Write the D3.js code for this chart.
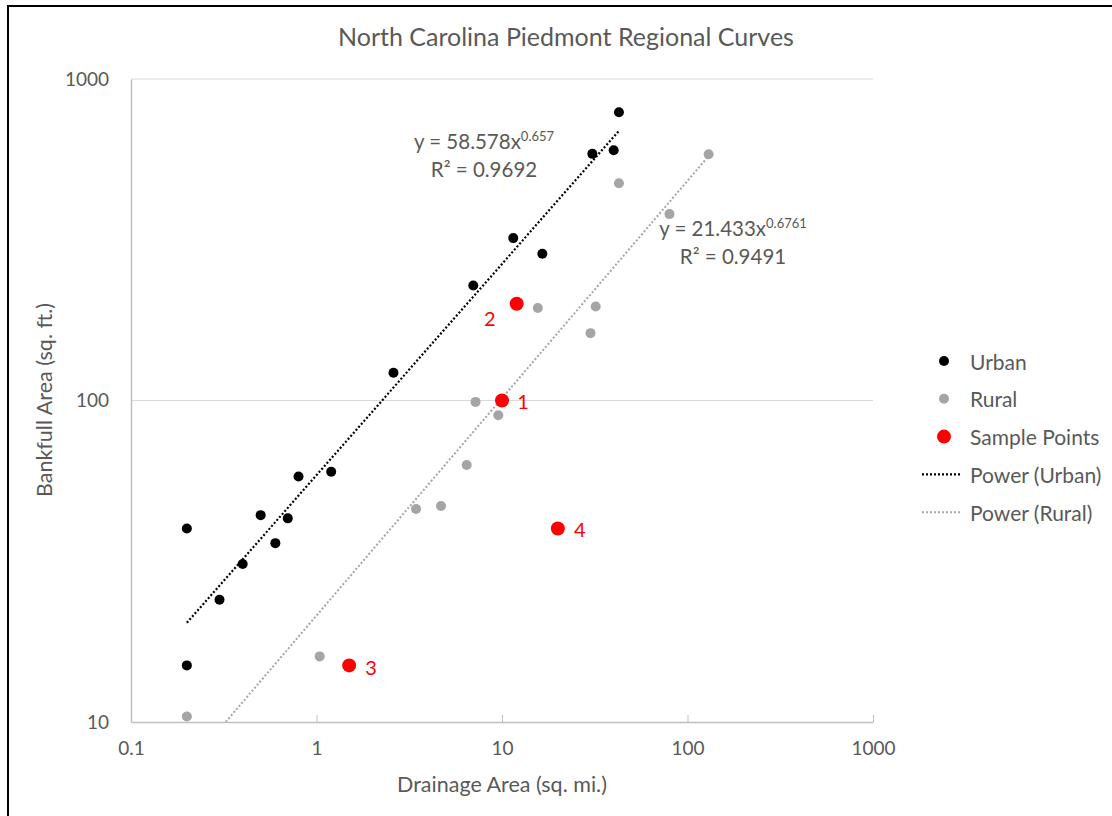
<!DOCTYPE html>
<html>
<head>
<meta charset="utf-8">
<script src="https://cdn.jsdelivr.net/npm/d3@7"></script>
<style>
  body { margin: 0; background: #fff; }
  text { font-family: Lato, "Open Sans", sans-serif; fill: #595959; }
</style>
</head>
<body>
<div class="chart"></div>
<script>
// data
var urbanX = [0.2, 0.2, 0.3, 0.4, 0.5, 0.6, 0.7, 0.8, 1.2, 2.6, 7, 11.5, 16.5, 30.7, 40, 42.7];
var urbanY = [40, 15, 24, 31, 44, 36, 43, 58, 60, 122, 228, 320, 286, 585, 600, 788];
var ruralX = [0.2, 1.04, 3.44, 4.69, 6.45, 7.2, 9.55, 15.6, 30, 32, 42.7, 80, 130];
var ruralY = [10.4, 16, 46, 47, 63, 99, 90, 194, 162, 196, 474, 380, 583];
var sampleX = [10, 12, 1.5, 20];
var sampleY = [100, 200, 15, 40];
var sampleLabels = ["1", "2", "3", "4"];
var xTicks = [0.1, 1, 10, 100, 1000];
var yTicks = [10, 100, 1000];
// power trendlines y = a x^b
var urbanFit = {a: 58.578, b: 0.657, r2: "0.9692"};
var ruralFit = {a: 21.433, b: 0.6761, r2: "0.9491"};

var W = 1112, H = 816;
var margin = {top: 79, left: 131, right: 239, bottom: 94};
var width = W - margin.left - margin.right;
var height = H - margin.top - margin.bottom;

var root = d3.select(".chart").append("svg")
    .attr("width", W).attr("height", H);

// outer frame
root.append("rect")
    .attr("x", 8).attr("y", 6).attr("width", W + 20).attr("height", H + 20)
    .attr("fill", "none").attr("stroke", "#000").attr("stroke-width", 2);

var svg = root.append("g")
    .attr("transform", "translate(" + margin.left + "," + margin.top + ")");

var x = d3.scaleLog().domain([0.1, 1000]).range([0, width]);
var y = d3.scaleLog().domain([10, 1000]).range([height, 0]);

svg.append("defs").append("clipPath").attr("id", "plot")
    .append("rect").attr("width", width).attr("height", height);

// gridlines
svg.selectAll(".grid").data(yTicks.slice(1)).enter().append("line")
    .attr("x1", 0).attr("x2", width)
    .attr("y1", function(d) { return y(d); }).attr("y2", function(d) { return y(d); })
    .attr("stroke", "#d9d9d9").attr("stroke-width", 1);

// axes
var xAxis = svg.append("g")
    .attr("transform", "translate(0," + height + ")")
    .call(d3.axisBottom(x).tickValues(xTicks).tickFormat(d3.format("~g")).tickSizeInner(-7).tickSizeOuter(0).tickPadding(20));
var yAxis = svg.append("g")
    .call(d3.axisLeft(y).tickValues(yTicks).tickFormat(d3.format("~g")).tickSize(0).tickPadding(22));
[xAxis, yAxis].forEach(function(a) {
  a.select(".domain").attr("stroke", "#bfbfbf").attr("stroke-width", 1.5);
  a.selectAll(".tick line").attr("stroke", "#bfbfbf");
  a.selectAll(".tick text").attr("fill", "#595959").style("font-size", "19px").style("font-family", "Lato, sans-serif");
});

// trendlines
function fitLine(fit, xs) {
  var ext = d3.extent(xs);
  return d3.line()
    .x(function(d) { return x(d); })
    .y(function(d) { return y(fit.a * Math.pow(d, fit.b)); })(ext);
}
svg.append("path")
    .attr("clip-path", "url(#plot)")
    .attr("d", fitLine(urbanFit, urbanX))
    .attr("fill", "none").attr("stroke", "#000").attr("stroke-width", 2.2)
    .attr("stroke-dasharray", "2,2");
svg.append("path")
    .attr("clip-path", "url(#plot)")
    .attr("d", fitLine(ruralFit, ruralX))
    .attr("fill", "none").attr("stroke", "#a6a6a6").attr("stroke-width", 2)
    .attr("stroke-dasharray", "2,2");

// points
svg.selectAll(".rural").data(ruralX).enter().append("circle")
    .attr("cx", function(d) { return x(d); })
    .attr("cy", function(d, i) { return y(ruralY[i]); })
    .attr("r", 5).attr("fill", "#a5a5a5");
svg.selectAll(".urban").data(urbanX).enter().append("circle")
    .attr("cx", function(d) { return x(d); })
    .attr("cy", function(d, i) { return y(urbanY[i]); })
    .attr("r", 5).attr("fill", "#000");
svg.selectAll(".sample").data(sampleX).enter().append("circle")
    .attr("cx", function(d) { return x(d); })
    .attr("cy", function(d, i) { return y(sampleY[i]); })
    .attr("r", 7).attr("fill", "#ff0000");
var labelOff = [[21, 0], [-27, 14], [22, 2], [22, 1]];
svg.selectAll(".slabel").data(sampleX).enter().append("text")
    .attr("x", function(d, i) { return x(d) + labelOff[i][0]; })
    .attr("y", function(d, i) { return y(sampleY[i]) + labelOff[i][1]; })
    .attr("text-anchor", "middle").attr("dominant-baseline", "central")
    .style("font-size", "20px").style("fill", "#ff0000")
    .text(function(d, i) { return sampleLabels[i]; });

// equations
function equation(fit, cx, cy) {
  var t = svg.append("text").attr("x", cx).attr("y", cy).attr("text-anchor", "middle").style("font-size", "20.5px");
  t.append("tspan").text("y = " + fit.a + "x");
  t.append("tspan").attr("dy", -8).style("font-size", "13px").text(fit.b);
  svg.append("text").attr("x", cx).attr("y", cy + 28).attr("text-anchor", "middle").style("font-size", "20.5px")
    .text("R\u00B2 = " + fit.r2);
}
equation(urbanFit, 484 - margin.left, 149 - margin.top);
equation(ruralFit, 733 - margin.left, 236 - margin.top);

// title and axis titles
root.append("text").attr("x", 566).attr("y", 46).attr("text-anchor", "middle")
    .style("font-size", "25px").text("North Carolina Piedmont Regional Curves");
root.append("text").attr("x", 502).attr("y", 792).attr("text-anchor", "middle")
    .style("font-size", "21.5px").text("Drainage Area (sq. mi.)");
root.append("text").attr("transform", "translate(52,400) rotate(-90)").attr("text-anchor", "middle")
    .style("font-size", "21.5px").text("Bankfull Area (sq. ft.)");

// legend
var legend = [
  {name: "Urban", type: "dot", color: "#000", r: 5},
  {name: "Rural", type: "dot", color: "#a5a5a5", r: 5},
  {name: "Sample Points", type: "dot", color: "#ff0000", r: 7},
  {name: "Power (Urban)", type: "line", color: "#000", w: 2.2},
  {name: "Power (Rural)", type: "line", color: "#a6a6a6", w: 2}
];
var lg = root.append("g").attr("transform", "translate(0,361)");
legend.forEach(function(d, i) {
  var yy = i * 37.8;
  if (d.type === "dot") {
    lg.append("circle").attr("cx", 944).attr("cy", yy).attr("r", d.r).attr("fill", d.color);
  } else {
    lg.append("line").attr("x1", 922).attr("x2", 962).attr("y1", yy).attr("y2", yy)
      .attr("stroke", d.color).attr("stroke-width", d.w).attr("stroke-dasharray", "2,2");
  }
  lg.append("text").attr("x", 970).attr("y", yy).attr("dominant-baseline", "central")
    .style("font-size", "21px").text(d.name);
});
</script>
</body>
</html>
